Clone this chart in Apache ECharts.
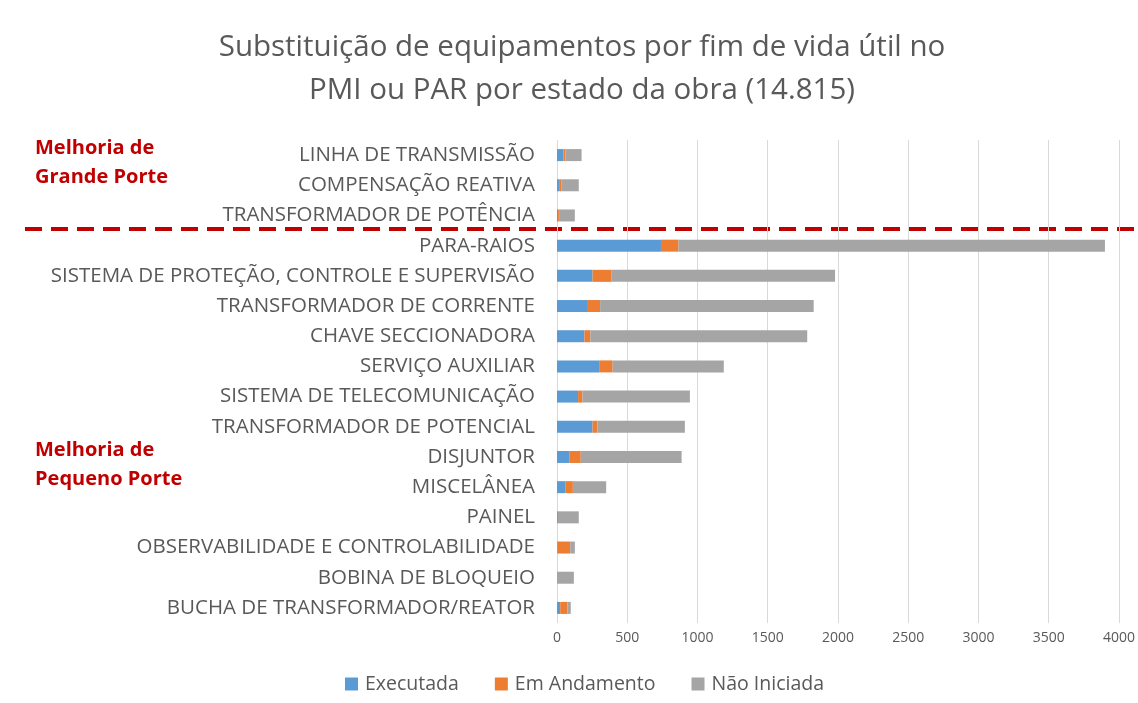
<!DOCTYPE html>
<html><head><meta charset="utf-8">
<script src="https://cdn.jsdelivr.net/npm/echarts@6/dist/echarts.min.js"></script>
<style>html,body{margin:0;padding:0;background:#fff}#c{width:1138px;height:703px}</style>
</head><body><div id="c"></div>
<script>
const categories = ["LINHA DE TRANSMISSÃO","COMPENSAÇÃO REATIVA","TRANSFORMADOR DE POTÊNCIA","PARA-RAIOS","SISTEMA DE PROTEÇÃO, CONTROLE E SUPERVISÃO","TRANSFORMADOR DE CORRENTE","CHAVE SECCIONADORA","SERVIÇO AUXILIAR","SISTEMA DE TELECOMUNICAÇÃO","TRANSFORMADOR DE POTENCIAL","DISJUNTOR","MISCELÂNEA","PAINEL","OBSERVABILIDADE E CONTROLABILIDADE","BOBINA DE BLOQUEIO","BUCHA DE TRANSFORMADOR/REATOR"];
const executada   = [45, 15, 8, 740, 253, 220, 195, 300, 150, 253, 87, 59, 0, 5, 5, 23];
const emAndamento = [15, 15, 7, 125, 136, 87, 42, 96, 31, 35, 82, 54, 7, 89, 0, 52];
const naoIniciada = [115, 125, 112, 3035, 1590, 1520, 1544, 791, 765, 622, 718, 237, 148, 33, 115, 23];
const seriesNames = ["Executada","Em Andamento","Não Iniciada"];
const xTicks = {min: 0, max: 4000, interval: 500};

const colors = ["#5B9BD5","#ED7D31","#A5A5A5"];
const font = "'Open Sans', 'Noto Sans', sans-serif";
const chart = echarts.init(document.getElementById('c'));
const dataSets = [executada, emAndamento, naoIniciada];
chart.setOption({
  animation: false,
  textStyle: {fontFamily: font},
  title: {
    text: "Substituição de equipamentos por fim de vida útil no\nPMI ou PAR por estado da obra (14.815)",
    left: 577, top: 21, textAlign: 'center',
    textStyle: {fontSize: 29.5, fontWeight: 'normal', color: '#595959', lineHeight: 43, fontFamily: font}
  },
  legend: {
    bottom: 4, left: 340, itemWidth: 13, itemHeight: 13, itemGap: 36, icon: 'rect',
    textStyle: {fontSize: 19.5, color: '#595959', fontFamily: font, padding: [0, 0, 0, 2]},
    data: seriesNames
  },
  grid: {left: 557, right: 14, top: 140, bottom: 80},
  xAxis: {
    type: 'value', min: xTicks.min, max: xTicks.max, interval: xTicks.interval,
    axisLine: {show: false}, axisTick: {show: false},
    axisLabel: {fontSize: 14, color: '#595959', margin: 8, fontFamily: font, formatter: v => String(v)},
    splitLine: {lineStyle: {color: '#D9D9D9', width: 1}}
  },
  yAxis: {
    type: 'category', inverse: true, data: categories,
    axisLine: {show: false}, axisTick: {show: false},
    axisLabel: {fontSize: 20.5, color: '#595959', margin: 22, fontFamily: font}
  },
  series: seriesNames.map((n, i) => ({
    name: n, type: 'bar', stack: 'total', barWidth: 12,
    itemStyle: {color: colors[i]},
    data: dataSets[i]
  })),
  graphic: [
    {type: 'line', shape: {x1: 25, y1: 229, x2: 1138, y2: 229},
     style: {stroke: '#C00000', lineWidth: 4, lineDash: [17, 9]}},
    {type: 'text', left: 35, top: 134, style: {text: 'Melhoria de\nGrande Porte', fill: '#C00000', font: "bold 20px " + font, lineHeight: 29}},
    {type: 'text', left: 35, top: 436, style: {text: 'Melhoria de\nPequeno Porte', fill: '#C00000', font: "bold 20px " + font, lineHeight: 29}}
  ]
});
</script></body></html>
